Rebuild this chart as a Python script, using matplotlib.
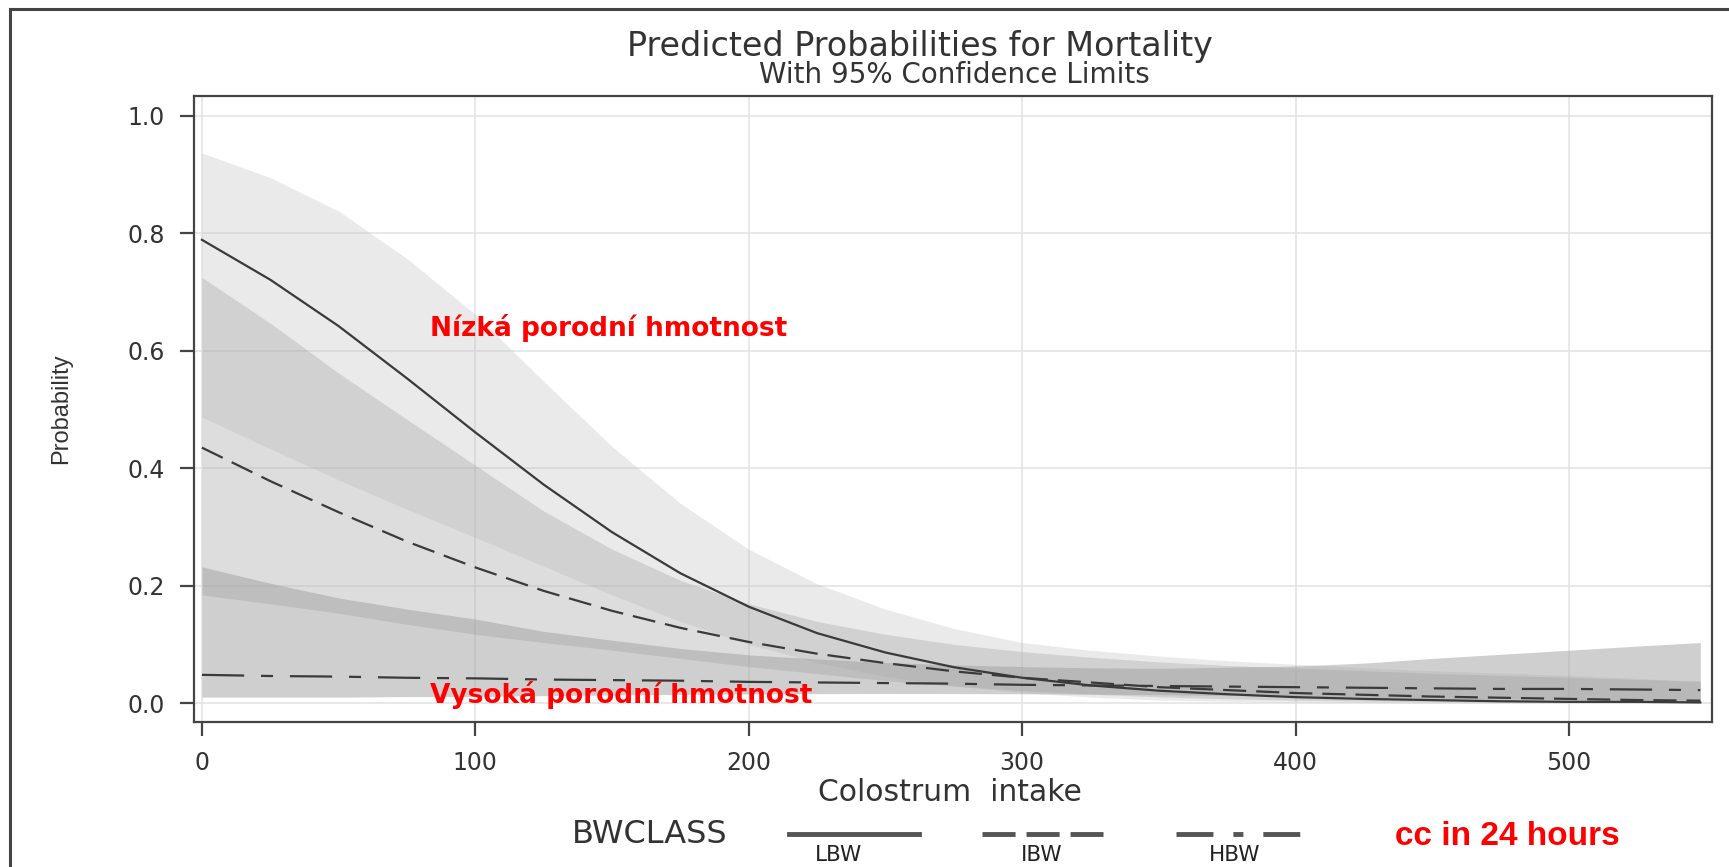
import matplotlib
matplotlib.use("Agg")
import matplotlib.pyplot as plt
from matplotlib import font_manager
from matplotlib.lines import Line2D

# colostrum intake (cc in 24 hours)
intake = [0, 25, 50, 75, 100, 125, 150, 175, 200, 225, 250, 275,
          300, 325, 350, 375, 400, 425, 450, 475, 500, 525, 548]

# predicted probabilities and 95% limits per birth weight class
lbw_prob = [0.789, 0.721, 0.642, 0.553, 0.461, 0.372, 0.291, 0.221, 0.164, 0.119, 0.086, 0.061,
            0.043, 0.030, 0.021, 0.015, 0.010, 0.007, 0.005, 0.003, 0.002, 0.002, 0.001]
lbw_lower = [0.487, 0.433, 0.380, 0.330, 0.282, 0.233, 0.184, 0.139, 0.100, 0.069, 0.045, 0.029,
             0.018, 0.010, 0.005, 0.003, 0.0015, 0.0008, 0.0004, 0.0002, 0.0001, 0.0, 0.0]
lbw_upper = [0.937, 0.895, 0.838, 0.757, 0.662, 0.548, 0.437, 0.340, 0.262, 0.203, 0.160, 0.127,
             0.103, 0.090, 0.080, 0.072, 0.066, 0.060, 0.055, 0.051, 0.047, 0.042, 0.036]

ibw_prob = [0.435, 0.378, 0.325, 0.275, 0.231, 0.191, 0.157, 0.128, 0.104, 0.084, 0.068, 0.054,
            0.043, 0.035, 0.027, 0.022, 0.017, 0.014, 0.011, 0.009, 0.007, 0.005, 0.004]
ibw_lower = [0.184, 0.169, 0.153, 0.134, 0.117, 0.103, 0.090, 0.076, 0.062, 0.050, 0.038, 0.029,
             0.021, 0.015, 0.0105, 0.0072, 0.0049, 0.0033, 0.0023, 0.0015, 0.0010, 0.0007, 0.0005]
ibw_upper = [0.725, 0.647, 0.562, 0.483, 0.405, 0.327, 0.262, 0.209, 0.169, 0.139, 0.117, 0.100,
             0.0875, 0.078, 0.070, 0.064, 0.0595, 0.055, 0.0505, 0.047, 0.0437, 0.040, 0.0377]

hbw_prob = [0.048, 0.046, 0.045, 0.043, 0.042, 0.040, 0.039, 0.038, 0.036, 0.035, 0.034, 0.033,
            0.031, 0.030, 0.029, 0.028, 0.027, 0.026, 0.025, 0.024, 0.024, 0.023, 0.022]
hbw_lower = [0.010, 0.010, 0.010, 0.011, 0.011, 0.0125, 0.0136, 0.0147, 0.0155, 0.016, 0.0162, 0.0161,
             0.0157, 0.0151, 0.0142, 0.0129, 0.0115, 0.0098, 0.0082, 0.0069, 0.0059, 0.0050, 0.0044]
hbw_upper = [0.232, 0.204, 0.179, 0.160, 0.143, 0.122, 0.107, 0.093, 0.082, 0.075, 0.069, 0.065,
             0.062, 0.060, 0.059, 0.061, 0.063, 0.068, 0.076, 0.083, 0.090, 0.097, 0.103]

classes = ["LBW", "IBW", "HBW"]
x_ticks = [0, 100, 200, 300, 400, 500]
y_ticks = [0.0, 0.2, 0.4, 0.6, 0.8, 1.0]

installed = {f.name for f in font_manager.fontManager.ttflist}
has_narrow = "Liberation Sans Narrow" in installed
line_col = "#3a3a3a"
text_col = "#333333"
red = "#ff0000"

fig = plt.figure(figsize=(17.29, 8.67), dpi=100)
ax = fig.add_axes([0.1122, 0.1672, 0.8780, 0.7221])

# bands: (colour, alpha) chosen so that overlaps darken like the original
bands = [
    (lbw_lower, lbw_upper, "#bcbcbc", 0.30),
    (ibw_lower, ibw_upper, "#acacac", 0.40),
    (hbw_lower, hbw_upper, "#9e9e9e", 0.485),
]
for lo, hi, col, a in bands:
    ax.fill_between(intake, lo, hi, color=col, alpha=a, lw=0, zorder=2)

ax.plot(intake, lbw_prob, color=line_col, lw=1.6, zorder=4)
ax.plot(intake, ibw_prob, color=line_col, lw=1.6, dashes=(10.4, 4.5), zorder=4)
ax.plot(intake, hbw_prob, color=line_col, lw=1.6, dashes=(19, 7.6, 5.4, 7.6), zorder=4)

ax.set_xlim(-2.9, 552.3)
ax.set_ylim(-0.0324, 1.034)
ax.set_xticks(x_ticks)
ax.set_yticks(y_ticks)
ax.set_xticklabels([str(t) for t in x_ticks])
ax.set_yticklabels([f"{t:.1f}" for t in y_ticks])
ax.grid(True, color="#e4e4e4", lw=1.2, zorder=1)
ax.set_axisbelow(True)
for s in ax.spines.values():
    s.set_color("#444444")
    s.set_linewidth(1.6)
ax.tick_params(axis="both", direction="out", length=10, width=1.6, color="#444444",
               labelsize=17, labelcolor=text_col, pad=11)

ax.text(83.4, 0.638, "Nízká porodní hmotnost", color=red, fontsize=19,
        fontweight="bold", va="center", ha="left", zorder=6)
ax.text(83.4, 0.0136, "Vysoká porodní hmotnost", color=red, fontsize=19,
        fontweight="bold", va="center", ha="left", zorder=6)

fig.text(0.532, 0.935, "Predicted Probabilities for Mortality", fontsize=24,
         color=text_col, ha="center", va="baseline")
fig.text(0.5518, 0.904, "With 95% Confidence Limits", fontsize=20,
         color=text_col, ha="center", va="baseline")
fig.text(0.0353, 0.529, "Probability", rotation=90, fontsize=17, family="Liberation Sans",
         color=text_col, ha="center", va="center")
fig.text(0.5495, 0.0855, "Colostrum  intake", fontsize=21.5, color=text_col,
         ha="center", va="center")

# legend drawn below the axis
fig.text(0.376, 0.037, "BWCLASS", fontsize=23, color=text_col, ha="center", va="center")
legend_x = [(0.4563, 0.5315), (0.568, 0.638), (0.680, 0.7535)]
label_x = [0.4847, 0.6027, 0.7143]
legend_dash = [None, (6.8, 2.26), (7.6, 4.1, 2.06, 4.1)]
for (x0, x1), lx, name, d in zip(legend_x, label_x, classes, legend_dash):
    ln = Line2D([x0, x1], [0.0380, 0.0380], transform=fig.transFigure, color="#555555", lw=3.5)
    if d is not None:
        ln.set_dashes(d)
    fig.add_artist(ln)
    fig.text(lx, 0.002, name, fontsize=15.5, color="#222222", ha="center", va="bottom")
if has_narrow:
    fig.text(0.872, 0.0355, "cc in 24 hours", fontsize=28, family="Liberation Sans Narrow",
             fontweight="bold", color=red, ha="center", va="center")
else:
    fig.text(0.872, 0.0355, "cc in 24 hours", fontsize=24, family="Liberation Sans",
             fontweight="bold", color=red, ha="center", va="center")

# outer frame of the exported graph
fig.add_artist(Line2D([0.0058, 1.0], [0.9896, 0.9896], transform=fig.transFigure,
                      color="#444444", lw=2.2))
fig.add_artist(Line2D([0.0058, 0.0058], [0.0, 0.9896], transform=fig.transFigure,
                      color="#444444", lw=2.2))

fig.savefig("out.png", dpi=100)
